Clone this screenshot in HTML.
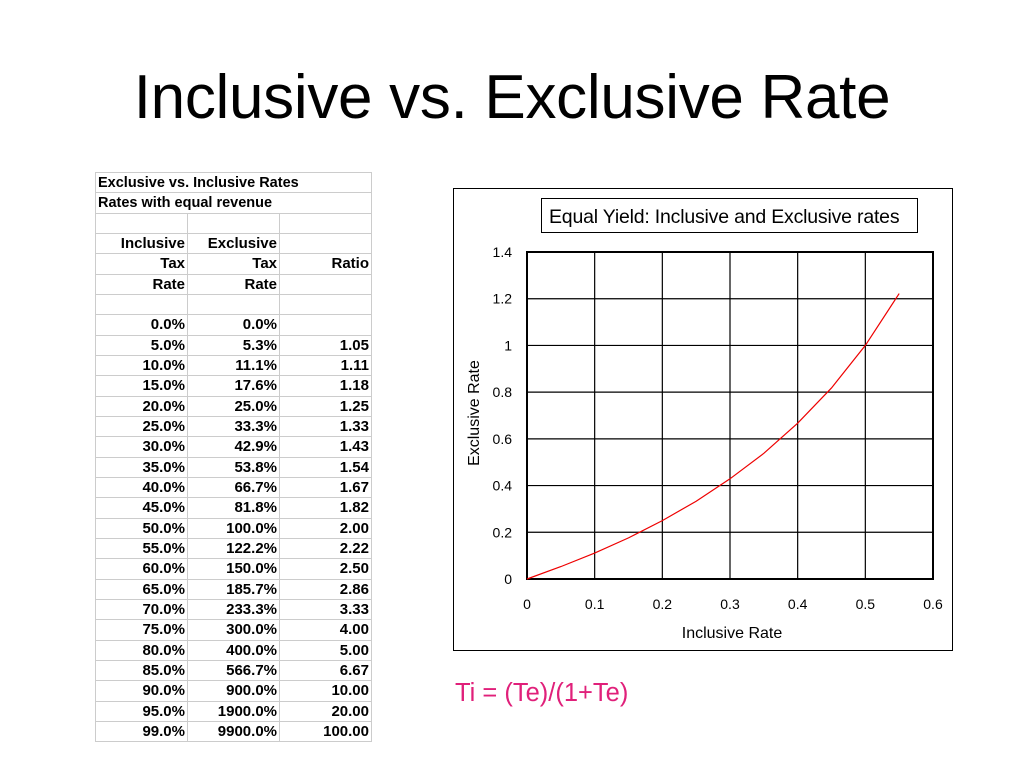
<!DOCTYPE html>
<html><head><meta charset="utf-8">
<style>
body{margin:0;width:1024px;height:768px;background:#fff;position:relative;overflow:hidden;font-family:"Liberation Sans",sans-serif}
#title{position:absolute;left:0;width:1024px;top:62px;text-align:center;font-size:62px;color:#000;line-height:72px;letter-spacing:-0.3px}
.c{position:absolute;box-sizing:border-box;font-weight:bold;font-size:15px;line-height:20px;text-align:right;padding-right:2px;color:#000;white-space:nowrap}
#formula{position:absolute;left:455px;top:679px;font-size:25.5px;color:#e0207a}
</style></head><body>
<div id="title">Inclusive vs. Exclusive Rate</div>
<div id="table"></div>
<svg id="chart" width="1024" height="768" style="position:absolute;left:0;top:0"></svg>
<div id="formula">Ti = (Te)/(1+Te)</div>
<script>
const incl=["0.0%","5.0%","10.0%","15.0%","20.0%","25.0%","30.0%","35.0%","40.0%","45.0%","50.0%","55.0%","60.0%","65.0%","70.0%","75.0%","80.0%","85.0%","90.0%","95.0%","99.0%"];
const excl=["0.0%","5.3%","11.1%","17.6%","25.0%","33.3%","42.9%","53.8%","66.7%","81.8%","100.0%","122.2%","150.0%","185.7%","233.3%","300.0%","400.0%","566.7%","900.0%","1900.0%","9900.0%"];
const ratio=["","1.05","1.11","1.18","1.25","1.33","1.43","1.54","1.67","1.82","2.00","2.22","2.50","2.86","3.33","4.00","5.00","6.67","10.00","20.00","100.00"];
const xVals=[0,0.05,0.10,0.15,0.20,0.25,0.30,0.35,0.40,0.45,0.50,0.55];
const yVals=[0,0.053,0.111,0.176,0.25,0.333,0.429,0.538,0.667,0.818,1.0,1.222];
const xTicks=[0,0.1,0.2,0.3,0.4,0.5,0.6];
const yTicks=[0,0.2,0.4,0.6,0.8,1,1.2,1.4];

const T=document.getElementById('table');
const colX=[95,187,279,371], top0=172, rh=20.33;
const rows=[["Exclusive vs. Inclusive Rates"],["Rates with equal revenue"],["","",""],["Inclusive","Exclusive",""],["Tax","Tax","Ratio"],["Rate","Rate",""],["","",""]];
for(let i=0;i<incl.length;i++) rows.push([incl[i],excl[i],ratio[i]]);
rows.forEach((r,i)=>{
  const y=top0+i*rh;
  if(r.length===1){
    const d=document.createElement('div');d.className='c';
    
    
    d.style.cssText=`left:${colX[0]}px;top:${y}px;width:${colX[3]-colX[0]+1}px;height:${rh+1}px;border:1px solid #ccc;text-align:left;padding-left:2px;font-size:14.5px`;
    d.textContent=r[0];T.appendChild(d);
  } else r.forEach((t,j)=>{
    const d=document.createElement('div');d.className='c';
    
    
    d.style.cssText=`left:${colX[j]}px;top:${y}px;width:${colX[j+1]-colX[j]+1}px;height:${rh+1}px;border:1px solid #ccc`;
    d.textContent=t;T.appendChild(d);
  });
});

const S=document.getElementById('chart'),NS='http://www.w3.org/2000/svg';
function el(tag,attrs,name,text){const e=document.createElementNS(NS,tag);for(const k in attrs)e.setAttribute(k,attrs[k]);


if(text!==undefined)e.textContent=text;S.appendChild(e);return e;}
const X0=527,X1=933,Y0=579,Y1=252;
const sx=v=>X0+(v-0)/0.6*(X1-X0), sy=v=>Y0-(v/1.4)*(Y0-Y1);
el('rect',{x:453.5,y:188.5,width:499,height:462,fill:'none',stroke:'#000','stroke-width':1},'chart-frame');
el('rect',{x:541.5,y:198.5,width:376,height:34,fill:'#fff',stroke:'#000','stroke-width':1},'chart-title-box');
el('text',{x:549,y:223,'font-size':19.5,'font-family':'Liberation Sans','letter-spacing':'-0.2'},'chart-title','Equal Yield: Inclusive and Exclusive rates');
xTicks.forEach(t=>{
  el('line',{x1:sx(t),x2:sx(t),y1:Y1,y2:Y0,stroke:'#000','stroke-width':1.2},'x-gridline');
  el('text',{x:sx(t),y:609,'font-size':14,'text-anchor':'middle','font-family':'Liberation Sans'},'x-tick-label',String(t));
});
yTicks.forEach(t=>{
  el('line',{x1:X0,x2:X1,y1:sy(t),y2:sy(t),stroke:'#000','stroke-width':1.2},'y-gridline');
  el('text',{x:512,y:sy(t)+5,'font-size':14,'text-anchor':'end','font-family':'Liberation Sans'},'y-tick-label',String(t));
});
el('rect',{x:X0,y:Y1,width:X1-X0,height:Y0-Y1,fill:'none',stroke:'#000','stroke-width':2},'plot-area');
el('polyline',{points:xVals.map((x,i)=>sx(x)+','+sy(yVals[i])).join(' '),fill:'none',stroke:'#e00','stroke-width':1.2},'exclusive-rate-line');
el('text',{x:732,y:638,'font-size':16,'text-anchor':'middle','font-family':'Liberation Sans'},'x-axis-title','Inclusive Rate');
el('text',{x:479,y:413,'font-size':16,'text-anchor':'middle','font-family':'Liberation Sans',transform:'rotate(-90 479 413)'},'y-axis-title','Exclusive Rate');
</script>
</body></html>
